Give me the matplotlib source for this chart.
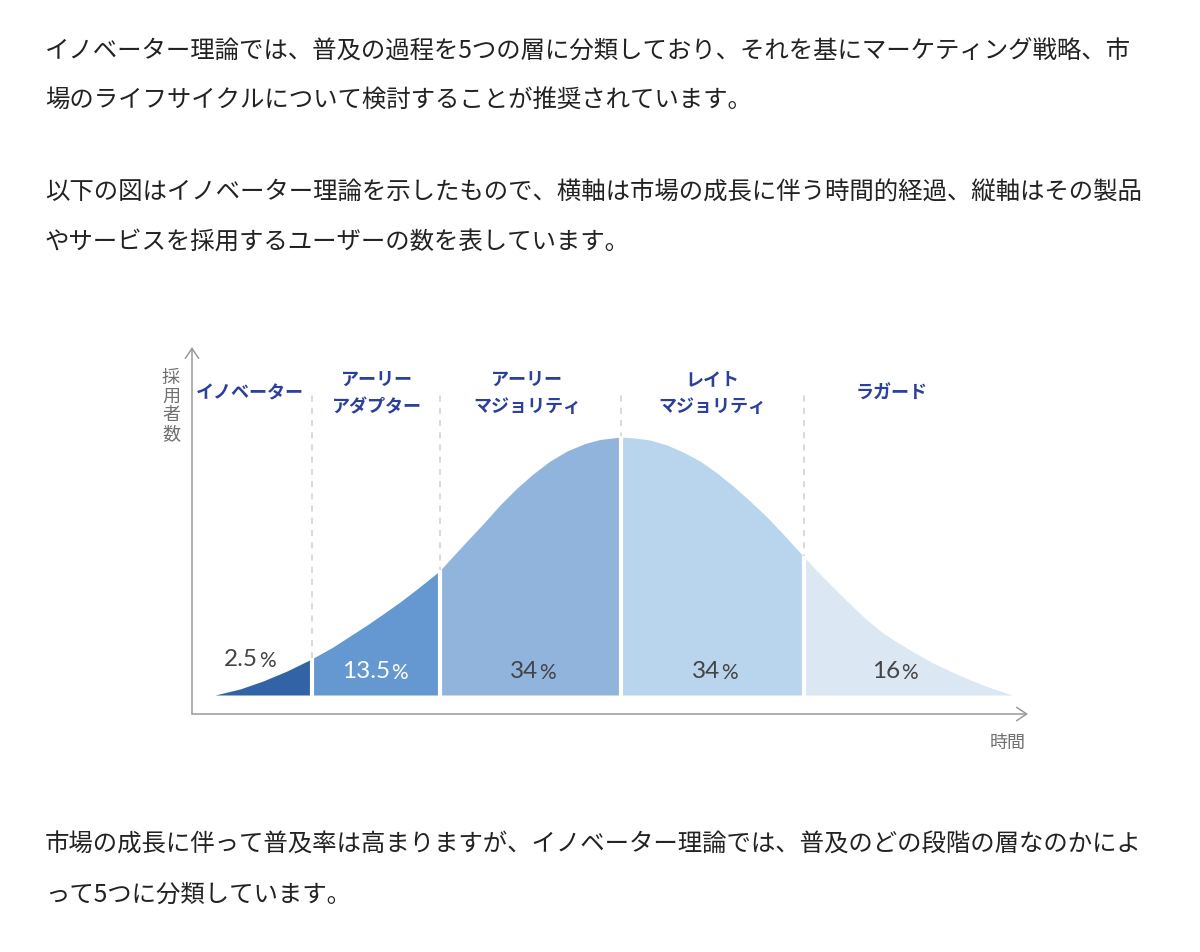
import matplotlib
matplotlib.use('Agg')
import matplotlib.pyplot as plt
import numpy as np

plt.rcParams['font.family'] = ['Noto Sans CJK JP', 'DejaVu Sans']

# 本文の段落
para_top = ['イノベーター理論では、普及の過程を5つの層に分類しており、それを基にマーケティング戦略、市',
            '場のライフサイクルについて検討することが推奨されています。',
            '以下の図はイノベーター理論を示したもので、横軸は市場の成長に伴う時間的経過、縦軸はその製品',
            'やサービスを採用するユーザーの数を表しています。']
para_bottom = ['市場の成長に伴って普及率は高まりますが、イノベーター理論では、普及のどの段階の層なのかによ',
               'って5つに分類しています。']

# 曲線（時間, 採用者数）を図から読み取った値
time = [23, 48, 71, 95, 119.5, 141, 158, 175, 191, 208,
        225, 247.5, 263, 275, 291, 308, 325, 341, 358, 375,
        393, 408, 429, 443, 458, 475, 491, 508, 525, 541,
        558, 575, 591, 612, 626, 641, 658, 675, 691, 708,
        725, 741, 758, 775, 791, 805, 820]
adopters = [0, 6, 14, 24, 36, 48, 59, 70, 81, 93,
            106, 124, 141, 154, 171, 190, 207, 221, 234, 244,
            251.5, 255.5, 258, 257, 255, 250, 243, 234, 222, 209,
            194, 178, 161, 138, 123, 108, 91, 75, 62, 51,
            41, 32, 24, 16.5, 10, 5, 0]

# 層の境界と名前
boundaries = [23, 119.5, 247.5, 429, 612, 820]
seg_names = ['イノベーター', 'アーリー\nアダプター', 'アーリー\nマジョリティ',
             'レイト\nマジョリティ', 'ラガード']
seg_shares = ['2.5', '13.5', '34', '34', '16']
seg_colors = ['#3163a6', '#6597d0', '#91b4dd', '#b9d4ed', '#dce7f4']
share_colors = ['#444444', '#ffffff', '#444444', '#444444', '#444444']

W, H = 1200, 952
fig = plt.figure(figsize=(W / 100, H / 100), dpi=100)

def fx(x):
    return x / W

def fy(y):
    return 1 - y / H

# 段落テキスト
for i, line in enumerate(para_top):
    y = [52, 101, 193, 242][i]
    fig.text(fx(45), fy(y), line, fontsize=17.6, color='#222222', va='center', ha='left')
for i, line in enumerate(para_bottom):
    y = [845, 895][i]
    fig.text(fx(45), fy(y), line, fontsize=17.6, color='#222222', va='center', ha='left')

# グラフ
ax = fig.add_axes([fx(192), fy(714), fx(1028 - 192), (714 - 347) / H])
ax.set_xlim(0, 836)
ax.set_ylim(-19, 348)
ax.axis('off')

t = np.array(time)
a = np.array(adopters)

# 点線の区切り
for b in boundaries[1:-1]:
    ax.plot([b, b], [0, 305], color='#cfcfcf', lw=1.1, dashes=(4, 4), zorder=1)

for i in range(5):
    m = (t >= boundaries[i]) & (t <= boundaries[i + 1])
    ax.fill_between(t[m], a[m], 0, color=seg_colors[i], lw=0, zorder=2)

# 白い隙間
for b in boundaries[1:-1]:
    h = a[time.index(b)]
    ax.plot([b, b], [-1, h + 1], color='white', lw=3, zorder=3, solid_capstyle='butt')

label_x = [58, 185, 335, 520, 700]
share_x = [58, 190, 338, 520, 700]
share_y = [35, 23, 23, 23, 23]
for i in range(5):
    ax.text(label_x[i], 302, seg_names[i], ha='center', va='center', fontsize=13,
            fontweight='bold', color='#2b3f9c', linespacing=1.55, zorder=4)
    ax.annotate(seg_shares[i], (share_x[i], share_y[i]), xytext=(6, 0),
                textcoords='offset points', ha='right', va='center', fontsize=17.5,
                color=share_colors[i], family=['Lato', 'DejaVu Sans'], zorder=4)
    ax.annotate('%', (share_x[i], share_y[i]), xytext=(6.5, -0.5),
                textcoords='offset points', ha='left', va='center', fontsize=15,
                color=share_colors[i], family=['Lato', 'DejaVu Sans'], zorder=4)

# 軸の矢印
arrow = dict(arrowstyle='->, head_length=0.6, head_width=0.4', color='#9a9a9a',
             lw=1.1, mutation_scale=12, shrinkA=0, shrinkB=0)
ax.annotate('', xy=(0, 1), xytext=(0, 0), xycoords='axes fraction', arrowprops=arrow)
ax.annotate('', xy=(1, 0), xytext=(0, 0), xycoords='axes fraction', arrowprops=arrow)

fig.text(fx(171), fy(406), '採\n用\n者\n数', fontsize=13, color='#707070',
         ha='center', va='center', linespacing=1.05)
fig.text(fx(1008), fy(743), '時間', fontsize=13, color='#707070', ha='center', va='center')

fig.savefig('out.png', dpi=100, facecolor='white')
